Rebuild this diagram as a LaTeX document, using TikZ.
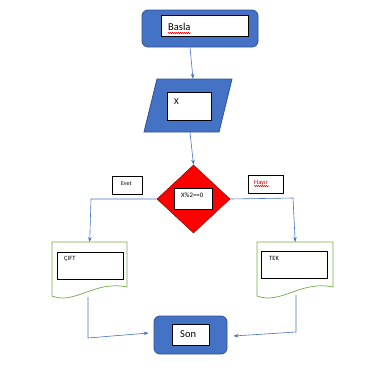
\documentclass[tikz,border=0pt]{standalone}
\usepackage{fontspec}
\setmainfont{Carlito}
\usetikzlibrary{shapes.geometric,arrows.meta,decorations.pathmorphing,calc}
\definecolor{wblue}{HTML}{4472C4}
\definecolor{wborder}{HTML}{2F528F}
\definecolor{wgreen}{HTML}{70AD47}
\definecolor{wred}{HTML}{FF0000}
\begin{document}
\begin{tikzpicture}[x=1pt,y=-1pt,
  term/.style={draw=wborder,fill=wblue,rounded corners=6pt,line width=0.8pt,inner sep=0pt},
  inbox/.style={draw=black,fill=white,line width=0.7pt,inner sep=0pt},
  lbl/.style={anchor=west,inner sep=0pt},
  doc/.style={draw=wgreen,line width=0.7pt,fill=white},
  conn/.style={draw=wblue,line width=0.6pt},
  arr/.style={conn,-{Stealth[length=5pt,width=3.5pt]}},
  squig/.style={draw=red,line width=0.5pt,decorate,decoration={snake,amplitude=0.7pt,segment length=2pt}},
]
\useasboundingbox (0,0) rectangle (380,392);
% start
\node[term,minimum width=116pt,minimum height=37pt] (start) at (200,28.5) {};
\node[inbox,minimum width=87pt,minimum height=21pt] (startin) at (204.5,26) {};
\node[lbl,font=\fontsize{10.5}{12}\selectfont] (startt) at (168,27) {Basla};
\draw[squig] (168,33) -- (191,33);
% input parallelogram
\node[minimum width=75pt,minimum height=53pt,inner sep=0pt] (inp) at (188,105.5) {};
\draw[draw=wborder,fill=wblue,line width=0.8pt] (157,79) -- (232,79) -- (219,132) -- (144,132) -- cycle;
\node[inbox,minimum width=44pt,minimum height=28pt] (inpin) at (189,106) {};
\node[lbl,font=\fontsize{9}{10}\selectfont] (inpt) at (174,102) {X};
% decision
\node[diamond,draw=red!60!black,fill=wred,line width=0.6pt,minimum width=73pt,minimum height=68pt,inner sep=0pt] (dec) at (193.5,199) {};
\node[inbox,minimum width=38pt,minimum height=21pt] (decin) at (193,198.5) {};
\node[lbl,font=\fontsize{6.8}{8}\selectfont] (dect) at (181,195.5) {X\%2==0};
% yes / no labels
\node[inbox,minimum width=30pt,minimum height=18pt] (yes) at (127,185) {};
\node[lbl,font=\fontsize{6}{7}\selectfont] (yest) at (121,184) {Evet};
\node[inbox,minimum width=35pt,minimum height=18pt] (no) at (265.5,184) {};
\node[lbl,font=\fontsize{6.5}{7}\selectfont,text=red!80!black] (not) at (254,183) {Hayır};
\draw[squig] (254,186) -- (269,186);
% documents
\node[minimum width=75pt,minimum height=55pt,inner sep=0pt,anchor=north west] (cift) at (52,242) {};
\draw[doc] (52,242) -- (127,242) -- (127,287) .. controls (95,280) and (75,305) .. (52,296) -- cycle;
\node[inbox,minimum width=66pt,minimum height=27pt] (ciftin) at (90,265.5) {};
\node[lbl,font=\fontsize{6.5}{7}\selectfont] (ciftt) at (64,259) {ÇIFT};
\node[minimum width=76pt,minimum height=55pt,inner sep=0pt,anchor=north west] (tek) at (257,242) {};
\draw[doc] (257,242) -- (333,242) -- (333,287) .. controls (301,280) and (281,305) .. (257,296) -- cycle;
\node[inbox,minimum width=66pt,minimum height=27pt] (tekin) at (294,264.5) {};
\node[lbl,font=\fontsize{6.5}{7}\selectfont] (tekt) at (269,258) {TEK};
% end
\node[term,minimum width=73pt,minimum height=38pt] (son) at (190.5,335) {};
\node[inbox,minimum width=37pt,minimum height=21pt] (sonin) at (190.5,334.5) {};
\node[lbl,font=\fontsize{10.5}{12}\selectfont] (sont) at (180,334) {Son};
% connectors
\coordinate (c1) at (91,199);
\coordinate (c2) at (293,198);
\coordinate (cb) at (88,297);
\coordinate (cb2) at (88,338);
\coordinate (tb) at (296,295);
\coordinate (tb2) at (296,332);
\draw[arr] ($(start.south)+(-10,0)$) -- ($(inp.north)+(5,0)$);
\draw[arr] ($(inp.south)+(2,0)$) -- (dec.north);
\draw[arr] (dec.west) -- (c1) -- (cift.north);
\draw[arr] (dec.east) -- (c2) -- (tek.north);
\draw[arr] (cb) -- (cb2) -- ($(son.west)+(-5,-2)$);
\draw[arr] (tb) -- (tb2) -- ($(son.east)+(6,1)$);
\end{tikzpicture}
\end{document}
